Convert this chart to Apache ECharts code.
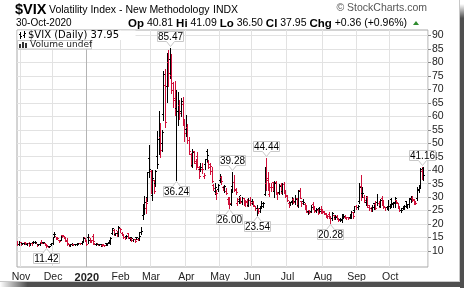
<!DOCTYPE html>
<html><head><meta charset="utf-8">
<script src="https://cdn.jsdelivr.net/npm/echarts@6/dist/echarts.min.js"></script>
<style>html,body{margin:0;padding:0;background:#fff}#c{width:464px;height:288px}</style>
</head><body><div id="c"></div><script>
// [day, open, high, low, close]
const oct19 = [[30,13.25,13.60,12.05,12.33],[31,12.50,13.73,12.30,13.22]];
const nov19 = [[1,13.10,13.20,12.20,12.30],[4,12.60,12.90,12.50,12.83],[5,12.80,13.30,12.70,13.10],[6,13.10,13.30,12.50,12.62],[7,12.40,13.00,12.20,12.73],[8,12.90,13.20,11.95,12.07],[11,12.80,12.90,12.40,12.69],[12,12.60,12.90,12.30,12.68],[13,13.30,13.60,12.90,13.00],[14,13.10,13.60,12.90,13.05],[15,12.60,12.70,11.95,12.05],[18,12.40,12.70,12.20,12.46],[19,12.40,12.90,12.20,12.86],[20,13.00,14.00,12.80,12.78],[21,13.00,13.50,12.80,12.98],[22,12.80,12.90,12.20,12.34],[25,12.30,12.40,11.42,11.87],[26,11.80,11.90,11.50,11.54],[27,11.60,11.90,11.50,11.75],[29,12.40,12.80,12.20,12.62]];
const dec19 = [[2,12.90,15.10,12.60,14.91],[3,16.00,17.00,15.50,15.96],[4,15.20,15.30,14.50,14.80],[5,14.80,15.10,14.30,14.52],[6,13.90,14.00,13.40,13.62],[9,14.00,16.00,13.90,15.86],[10,15.70,16.10,15.30,15.68],[11,15.30,15.50,14.80,14.99],[12,15.10,15.30,13.70,13.94],[13,13.40,14.80,12.40,12.63],[16,12.30,12.50,12.00,12.14],[17,12.20,12.50,12.00,12.29],[18,12.30,12.80,12.20,12.58],[19,12.50,12.60,12.20,12.50],[20,12.50,12.70,12.20,12.51],[23,12.50,12.80,12.40,12.61],[24,12.60,12.80,12.50,12.67],[26,12.70,12.90,12.50,12.65],[27,12.70,13.60,12.60,13.43],[30,13.60,15.10,13.50,14.82],[31,15.00,15.00,13.70,13.78]];
const jan20 = [[2,13.50,13.70,12.40,12.47],[3,15.00,16.20,13.10,14.02],[6,15.00,15.00,13.50,13.85],[7,14.00,14.10,13.30,13.79],[8,15.20,16.20,12.70,13.45],[9,13.00,13.00,12.50,12.54],[10,12.40,12.90,12.10,12.56],[13,12.60,12.60,12.10,12.32],[14,12.40,12.70,12.20,12.39],[15,12.40,12.60,11.80,12.42],[16,12.20,12.50,12.00,12.32],[17,12.10,12.20,11.80,12.10],[21,12.70,13.00,12.40,12.85],[22,12.60,12.90,12.20,12.91],[23,13.10,13.90,12.80,12.98],[24,13.00,15.30,12.60,14.56],[27,16.60,18.40,16.20,18.23],[28,17.50,18.00,16.10,16.28],[29,16.20,16.80,15.90,16.39],[30,17.50,17.60,15.40,15.49],[31,16.50,19.10,15.70,18.84]];
const feb20 = [[3,18.50,18.60,17.00,17.97],[4,16.60,17.00,15.90,16.05],[5,15.80,16.00,14.90,15.15],[6,15.10,15.40,14.40,14.96],[7,15.40,16.00,14.90,15.47],[10,16.50,16.60,15.00,15.04],[11,14.70,15.30,13.90,15.18],[12,14.60,14.70,13.70,13.74],[13,14.50,14.60,13.70,14.15],[14,14.10,14.40,13.40,13.68],[18,14.90,15.30,14.30,14.83],[19,14.30,14.60,13.90,14.38],[20,14.70,17.10,14.10,15.56],[21,16.80,19.00,16.20,17.08],[24,23.00,27.60,21.70,25.03],[25,24.40,30.40,23.90,27.85],[26,25.80,30.20,24.00,27.56],[27,30.00,39.20,28.50,39.16],[28,44.20,49.50,37.40,40.11]];
const mar20 = [[2,39.40,40.10,31.50,33.42],[3,30.60,40.00,28.80,36.82],[4,36.20,36.30,31.60,31.99],[5,35.00,40.00,34.00,39.62],[6,45.00,54.40,40.90,41.94],[9,51.40,62.10,46.00,54.46],[10,52.10,57.50,45.00,47.30],[11,49.80,54.90,47.00,53.90],[12,60.80,76.80,58.50,75.47],[13,71.30,77.60,56.00,57.83],[16,71.00,83.60,65.20,82.69],[17,80.10,84.80,71.40,75.91],[18,81.10,85.47,74.30,76.45],[19,75.30,83.10,68.50,72.00],[20,69.60,72.70,63.60,66.04],[23,66.60,73.00,60.50,61.59],[24,63.00,69.90,36.24,61.67],[25,61.70,69.00,56.80,63.95],[26,64.00,66.20,59.00,61.00],[27,61.60,66.90,60.30,65.54],[30,64.30,67.20,56.90,57.08],[31,56.70,59.10,50.80,53.54]];
const apr20 = [[1,55.00,60.60,52.80,57.06],[2,56.00,57.20,50.20,50.91],[3,51.00,52.30,46.00,46.80],[6,46.00,46.40,41.40,45.24],[7,41.60,47.80,41.00,46.70],[8,46.90,47.00,42.60,43.35],[9,42.30,44.00,40.60,41.67],[13,44.90,46.60,41.00,41.17],[14,40.20,41.40,37.00,37.76],[15,40.40,42.80,39.80,40.84],[16,40.10,42.50,39.00,40.11],[17,37.80,39.10,37.10,38.15],[20,42.00,44.10,40.30,43.83],[21,46.90,47.70,43.50,45.41],[22,42.90,43.80,40.70,41.98],[23,41.00,42.60,38.60,41.38],[24,39.50,41.20,35.60,35.93],[27,34.20,35.00,32.70,33.29],[28,32.10,35.10,31.30,33.57],[29,31.50,32.50,29.20,31.23],[30,33.00,35.00,32.30,34.15]];
const may20 = [[1,36.00,38.40,35.70,37.19],[4,37.40,38.00,35.00,35.97],[5,33.40,34.20,32.60,33.61],[6,33.60,34.60,32.00,34.12],[7,32.00,33.40,31.20,31.44],[8,29.10,30.00,27.50,27.98],[11,28.60,29.90,26.00,27.57],[12,27.20,33.20,27.00,33.04],[13,33.80,39.28,31.90,35.28],[14,35.50,38.20,32.40,32.61],[15,33.00,33.50,31.30,31.89],[18,27.60,29.70,27.20,29.30],[19,28.50,30.60,27.90,30.53],[20,29.70,30.00,27.80,27.99],[21,28.20,30.10,27.50,29.53],[22,29.50,29.80,27.60,28.16],[26,27.00,29.00,26.60,28.01],[27,28.20,29.40,26.80,27.62],[28,27.00,29.50,26.80,28.59],[29,28.70,30.00,27.20,27.51]];
const jun20 = [[1,28.50,29.30,27.60,28.23],[2,28.00,28.50,26.60,26.84],[3,26.40,26.80,25.30,25.66],[4,25.60,27.20,23.54,25.81],[5,25.50,26.00,24.00,24.52],[8,25.70,26.40,24.60,25.81],[9,26.40,28.50,26.10,27.57],[10,26.60,28.30,26.20,27.57],[11,31.10,41.20,30.70,40.79],[12,35.10,44.44,32.60,36.09],[15,37.00,39.40,32.70,34.40],[16,31.10,35.40,30.60,33.67],[17,33.50,35.10,32.10,33.47],[18,35.30,35.50,32.40,32.94],[19,32.00,35.80,30.00,35.12],[22,35.50,36.00,31.70,31.77],[23,31.00,32.00,29.30,31.37],[24,31.60,35.00,31.00,33.84],[25,34.20,35.40,31.50,32.22],[26,32.10,35.20,31.30,34.73],[29,34.80,35.60,31.70,31.78],[30,32.40,32.70,30.10,30.43]];
const jul20 = [[1,30.10,30.70,28.40,28.62],[2,27.80,28.50,26.50,27.68],[6,28.00,28.20,26.90,27.94],[7,28.20,30.00,27.60,29.43],[8,29.00,29.50,27.80,28.08],[9,28.20,30.90,27.60,29.26],[10,29.50,29.80,26.80,27.29],[13,26.90,32.50,26.40,32.19],[14,32.60,33.30,29.50,29.52],[15,28.20,28.50,26.80,27.76],[16,28.40,29.40,27.60,28.00],[17,27.20,28.00,25.50,25.68],[20,26.50,27.00,24.40,24.46],[21,24.70,25.20,23.90,24.84],[22,25.20,25.30,24.20,24.32],[23,24.60,27.20,24.30,26.08],[24,27.10,28.10,25.50,25.84],[27,26.40,26.60,24.30,24.74],[28,25.00,26.10,24.60,25.44],[29,25.20,25.60,23.90,24.10],[30,25.80,26.30,24.50,24.76],[31,25.50,26.60,24.00,24.46]];
const aug20 = [[3,25.00,25.50,24.10,24.28],[4,24.80,25.00,23.60,23.76],[5,23.60,24.00,22.70,23.00],[6,23.20,23.40,22.30,22.65],[7,23.40,24.30,22.10,22.21],[10,22.50,23.10,20.28,22.13],[11,22.00,24.60,21.60,24.03],[12,23.20,23.40,22.00,22.28],[13,22.40,23.20,21.80,22.59],[14,22.90,23.30,21.90,22.05],[17,21.90,22.30,21.10,21.35],[18,21.60,22.40,21.00,21.51],[19,21.30,23.20,20.90,22.54],[20,23.40,23.80,22.40,22.72],[21,22.40,23.20,22.20,22.54],[24,22.00,22.60,21.80,22.37],[25,22.30,22.80,21.80,22.03],[26,22.40,23.40,22.10,23.27],[27,23.70,24.90,22.30,24.47],[28,24.30,24.30,22.20,22.96],[31,25.00,26.60,24.40,26.41]];
const sep20 = [[1,26.60,26.90,25.70,26.12],[2,26.30,27.20,25.50,26.57],[3,28.50,35.20,27.80,33.60],[4,34.00,38.30,28.80,30.75],[8,31.50,33.70,30.20,31.46],[9,29.90,30.80,28.30,28.81],[10,28.00,30.40,27.10,29.71],[11,29.80,30.40,26.50,26.87],[14,26.00,26.90,25.20,25.85],[15,25.60,26.40,25.00,25.59],[16,25.70,27.20,24.90,26.04],[17,27.50,28.00,25.60,26.46],[18,27.20,28.70,25.60,25.83],[21,28.00,31.10,27.10,27.78],[22,27.60,28.60,26.30,26.86],[23,26.60,29.20,26.20,28.58],[24,29.40,30.40,27.10,28.51],[25,28.50,29.10,25.80,26.38],[28,26.00,26.40,25.10,26.19],[29,26.20,26.80,25.60,26.27],[30,25.60,29.00,25.20,26.37]];
const oct20 = [[1,26.50,27.60,25.80,26.70],[2,29.00,29.70,26.50,27.63],[5,27.20,28.10,26.50,27.96],[6,27.70,30.00,26.20,29.48],[7,28.70,29.00,27.80,28.06],[8,27.60,27.80,26.10,26.36],[9,26.10,26.30,24.90,25.00],[12,25.20,25.80,24.60,25.07],[13,25.80,26.80,25.50,26.07],[14,25.90,27.20,25.70,26.40],[15,28.50,28.70,26.50,26.97],[16,26.70,27.60,26.00,27.41],[19,27.20,29.60,26.30,29.18],[20,29.40,30.60,28.30,29.35],[21,29.60,30.30,28.40,28.65],[22,29.00,29.40,27.30,28.11],[23,28.40,28.50,27.40,27.55],[26,29.50,33.60,28.90,32.46],[27,33.00,34.00,31.90,33.35],[28,34.40,40.80,33.80,40.28],[29,39.60,41.16,36.70,37.59],[30,40.81,41.09,36.50,37.95]];
const prevClose0 = 13.20;

const monthTable = [[2019,10,oct19,null],[2019,11,nov19,'Nov'],[2019,12,dec19,'Dec'],[2020,1,jan20,'2020'],[2020,2,feb20,'Feb'],[2020,3,mar20,'Mar'],[2020,4,apr20,'Apr'],[2020,5,may20,'May'],[2020,6,jun20,'Jun'],[2020,7,jul20,'Jul'],[2020,8,aug20,'Aug'],[2020,9,sep20,'Sep'],[2020,10,oct20,'Oct']];
const yTicks = [10,15,20,25,30,35,40,45,50,55,60,65,70,75,80,85,90];
// [date, value, 1 = high (box above), -1 = low (box below)]
const notes = [['2019-11-25',11.42,-1],['2020-03-18',85.47,1],['2020-03-24',36.24,-1],['2020-05-13',39.28,1],['2020-05-11',26.00,-1],['2020-06-04',23.54,-1],['2020-06-12',44.44,1],['2020-08-10',20.28,-1],['2020-10-29',41.16,1]];

const pad = n => (n < 10 ? '0' : '') + n;
const cats = [], bars = [], labelAt = {};
let prev = prevClose0;
monthTable.forEach(([y, m, arr, lab]) => {
  arr.forEach((d, k) => {
    const key = y + '-' + pad(m) + '-' + pad(d[0]);
    const idx = cats.length;
    cats.push(key);
    if (k === 0 && lab) labelAt[idx] = lab;
    bars.push([idx, d[1], d[2], d[3], d[4], d[4] >= prev ? 1 : 0]);
    prev = d[4];
  });
});
cats.push('pad1', 'pad2');
const idxOf = {}; cats.forEach((c, i) => idxOf[c] = i);
const noteData = notes.map(n => [idxOf[n[0]], n[1], n[2]]);

function renderBar(params, api) {
  const i = api.value(0);
  const pO = api.coord([i, api.value(1)]);
  const pH = api.coord([i, api.value(2)]);
  const pL = api.coord([i, api.value(3)]);
  const pC = api.coord([i, api.value(4)]);
  const col = api.value(5) ? '#000000' : '#d0103a';
  const x = Math.round(pH[0] - 0.5);
  const yh = Math.round(pH[1]), yl = Math.round(pL[1]);
  const yo = Math.round(pO[1] - 0.5), yc = Math.round(pC[1] - 0.5);
  return { type: 'group', children: [
    { type: 'rect', shape: { x: x, y: yh, width: 1, height: Math.max(1, yl - yh + 1) }, style: { fill: col } },
    { type: 'rect', shape: { x: x - 1, y: yo, width: 1, height: 1 }, style: { fill: col } },
    { type: 'rect', shape: { x: x + 1, y: yc, width: 1, height: 1 }, style: { fill: col } }
  ]};
}
function renderNote(params, api) {
  const v = api.value(1), dir = api.value(2);
  const p = api.coord([api.value(0), v]);
  const x = Math.round(p[0] - 0.5) + 0.5;
  const w = 26, h = 10, ph = 5, pw = 4;
  let pts, ty;
  if (dir > 0) {
    const tip = Math.round(p[1]) - 1.5, base = tip - ph;
    pts = [[x, tip], [x - pw, base], [x - w / 2, base], [x - w / 2, base - h], [x + w / 2, base - h], [x + w / 2, base], [x + pw, base]];
    ty = base - h / 2;
  } else {
    const tip = Math.round(p[1]) + 1.5, base = tip + ph;
    pts = [[x, tip], [x - pw, base], [x - w / 2, base], [x - w / 2, base + h], [x + w / 2, base + h], [x + w / 2, base], [x + pw, base]];
    ty = base + h / 2;
  }
  return { type: 'group', children: [
    { type: 'polygon', shape: { points: pts }, style: { fill: '#ffffff', stroke: '#c8c8c8', lineWidth: 1 } },
    { type: 'text', style: { text: v.toFixed(2), x: x, y: ty + 0.5, align: 'center', verticalAlign: 'middle', font: '10px "Liberation Sans"', fill: '#000' } }
  ]};
}

const splitColors = Object.keys(labelAt).map(k => labelAt[k] === '2020' ? '#b4b4b4' : '#e2e2e2');
const chart = echarts.init(document.getElementById('c'), null, { renderer: 'canvas' });
chart.setOption({
  animation: false,
  backgroundColor: '#ffffff',
  grid: { left: 17, right: 36, top: 30, bottom: 21, show: true, borderColor: '#a8a8a8', borderWidth: 1, backgroundColor: 'transparent' },
  xAxis: {
    type: 'category', data: cats, boundaryGap: true,
    axisLine: { show: false }, axisTick: { show: false },
    axisLabel: {
      interval: (i) => labelAt[i] !== undefined,
      formatter: (v, i) => labelAt[i] === '2020' ? '{b|2020}' : (labelAt[i] || ''),
      margin: 5, color: '#222', fontSize: 10.5, fontFamily: 'Liberation Sans',
      rich: { b: { fontWeight: 'bold', fontSize: 11, color: '#222', fontFamily: 'Liberation Sans' } }
    },
    splitLine: { show: true, interval: (i) => labelAt[i] !== undefined, lineStyle: { color: splitColors, width: 1 } }
  },
  yAxis: {
    type: 'value', position: 'right', min: 4.06, max: 92.04,
    axisLine: { show: false },
    axisTick: { show: true, length: 3, customValues: yTicks, lineStyle: { color: '#888' } },
    axisLabel: { customValues: yTicks, margin: 4, color: '#222', fontSize: 10.5, fontFamily: 'Liberation Sans' },
    splitLine: { show: true, lineStyle: { color: '#e2e2e2', width: 1 } }
  },
  series: [
    { type: 'custom', name: 'VIX', renderItem: renderBar, data: bars, encode: { x: 0, y: [1, 2, 3, 4] }, clip: true, z: 3 },
    { type: 'custom', name: 'notes', renderItem: renderNote, data: noteData, encode: { x: 0, y: 1 }, clip: false, z: 5 }
  ],
  graphic: [
    { type: 'text', z: 10, style: { x: 15, y: 9.5, text: '$VIX', font: 'bold 14.5px "Liberation Sans"', fill: '#000', verticalAlign: 'middle' } },
    { type: 'text', z: 10, style: { x: 49, y: 10, text: 'Volatility Index - New Methodology', font: '10.5px "Liberation Sans"', fill: '#000', verticalAlign: 'middle' } },
    { type: 'text', z: 10, style: { x: 213, y: 10, text: 'INDX', font: '10.5px "Liberation Sans"', fill: '#000', verticalAlign: 'middle' } },
    { type: 'text', z: 10, style: { x: 427, y: 8, text: '© StockCharts.com', font: '10.5px "Liberation Sans"', fill: '#555', align: 'right', verticalAlign: 'middle' } },
    { type: 'text', z: 10, style: { x: 16, y: 23.5, text: '30-Oct-2020', font: '10px "Liberation Sans"', fill: '#000', verticalAlign: 'middle' } },
    { type: 'text', z: 10, style: { x: 128, y: 23.5, text: '{b|Op} 40.81 {b|Hi} 41.09 {b|Lo} 36.50 {b|Cl} 37.95 {b|Chg} +0.36 (+0.96%)', font: '10.5px "Liberation Sans"', fill: '#000', verticalAlign: 'middle', rich: { b: { fontWeight: 'bold', fontSize: 11.5, fontFamily: 'Liberation Sans', fill: '#000' } } } },
    { type: 'polygon', z: 10, shape: { points: [[413, 25], [419, 25], [416, 21]] }, style: { fill: '#2e8b2e' } },
    // legend boxes
    { type: 'rect', z: 8, shape: { x: 17.5, y: 30.5, width: 118, height: 9.5 }, style: { fill: '#fff' } },
    { type: 'rect', z: 8, shape: { x: 17.5, y: 40.5, width: 74, height: 8.5 }, style: { fill: '#fff', stroke: '#c8c8c8', lineWidth: 1 } },
    { type: 'text', z: 10, style: { x: 28, y: 35.5, text: '$VIX (Daily) 37.95', font: '10px "DejaVu Sans"', fill: '#000', verticalAlign: 'middle' } },
    { type: 'text', z: 10, style: { x: 30, y: 45, text: 'Volume undef', font: '9px "DejaVu Sans"', fill: '#222', verticalAlign: 'middle' } },
    // legend icons
    { type: 'rect', z: 10, shape: { x: 20, y: 32, width: 1, height: 7 }, style: { fill: '#000' } },
    { type: 'rect', z: 10, shape: { x: 19, y: 34, width: 1, height: 1 }, style: { fill: '#000' } },
    { type: 'rect', z: 10, shape: { x: 21, y: 36, width: 1, height: 1 }, style: { fill: '#000' } },
    { type: 'rect', z: 10, shape: { x: 24, y: 31, width: 1, height: 7 }, style: { fill: '#000' } },
    { type: 'rect', z: 10, shape: { x: 23, y: 35, width: 1, height: 1 }, style: { fill: '#000' } },
    { type: 'rect', z: 10, shape: { x: 25, y: 33, width: 1, height: 1 }, style: { fill: '#000' } },
    { type: 'rect', z: 10, shape: { x: 19, y: 44, width: 2, height: 4 }, style: { fill: '#333' } },
    { type: 'rect', z: 10, shape: { x: 22, y: 42, width: 2, height: 6 }, style: { fill: '#333' } },
    { type: 'rect', z: 10, shape: { x: 25, y: 43, width: 2, height: 5 }, style: { fill: '#333' } },
    // drop shadow
    { type: 'rect', z: 1, shape: { x: 459, y: 0, width: 1, height: 282 }, style: { fill: '#c8c8c8' } },
    { type: 'rect', z: 1, shape: { x: 0, y: 281, width: 460, height: 1 }, style: { fill: '#c8c8c8' } },
    { type: 'rect', z: 1, shape: { x: 460, y: 4, width: 4, height: 284 }, style: { fill: new echarts.graphic.LinearGradient(0, 0, 0, 1, [{ offset: 0, color: 'rgba(60,60,60,0)' }, { offset: 0.05, color: 'rgba(60,60,60,0.9)' }, { offset: 1, color: 'rgba(60,60,60,0.9)' }]) } },
    { type: 'rect', z: 1, shape: { x: 0, y: 282, width: 460, height: 5 }, style: { fill: new echarts.graphic.LinearGradient(0, 0, 1, 0, [{ offset: 0, color: 'rgba(60,60,60,0)' }, { offset: 0.06, color: 'rgba(60,60,60,0.9)' }, { offset: 1, color: 'rgba(60,60,60,0.9)' }]) } }
  ]
});
</script></body></html>
